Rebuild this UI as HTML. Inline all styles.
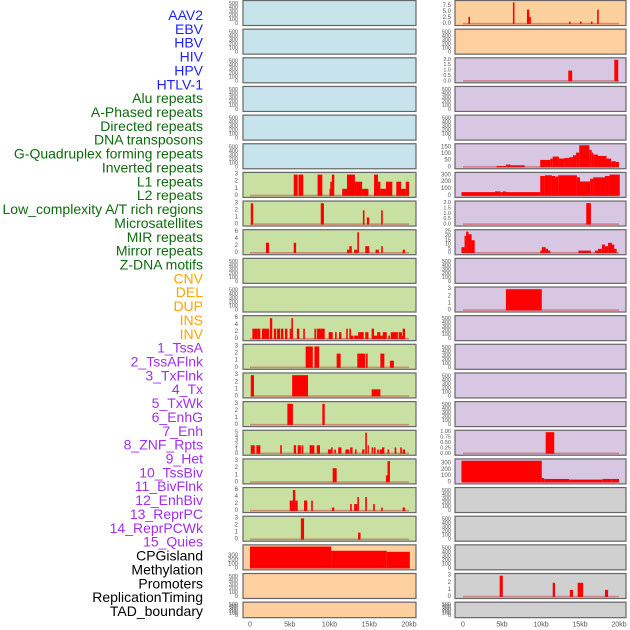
<!DOCTYPE html>
<html><head><meta charset="utf-8"><style>
html,body{margin:0;padding:0;background:#fff;width:630px;height:630px;overflow:hidden}
svg{display:block;font-family:"Liberation Sans",sans-serif}
</style></head><body>
<svg id="chart" width="630" height="630" viewBox="0 0 630 630" xmlns="http://www.w3.org/2000/svg">
<g id="labels"></g>
<g id="panels"></g>
<g id="xaxes"></g>
</svg>
<script>
const trackNames = ["AAV2","EBV","HBV","HIV","HPV","HTLV-1","Alu repeats","A-Phased repeats","Directed repeats","DNA transposons","G-Quadruplex forming repeats","Inverted repeats","L1 repeats","L2 repeats","Low_complexity A/T rich regions","Microsatellites","MIR repeats","Mirror repeats","Z-DNA motifs","CNV","DEL","DUP","INS","INV","1_TssA","2_TssAFlnk","3_TxFlnk","4_Tx","5_TxWk","6_EnhG","7_Enh","8_ZNF_Rpts","9_Het","10_TssBiv","11_BivFlnk","12_EnhBiv","13_ReprPC","14_ReprPCWk","15_Quies","CPGisland","Methylation","Promoters","ReplicationTiming","TAD_boundary"];
const trackGroups = ["v","v","v","v","v","v","r","r","r","r","r","r","r","r","r","r","r","r","r","s","s","s","s","s","c","c","c","c","c","c","c","c","c","c","c","c","c","c","c","o","o","o","o","o"];
const groupColors = {v:"#1f1fff",r:"#0f6a0f",s:"#ffa500",c:"#a12ef0",o:"#000000"};
const xTicks = [0,5,10,15,20];
const xTickLabels = ["0","5kb","10kb","15kb","20kb"];

const c1Bg = ["b","b","b","b","b","b","g","g","g","g","g","g","g","g","g","g","g","g","g","o","o","o"];
const c2Bg = ["o","o","p","p","p","p","p","p","p","p","p","p","p","p","p","p","p","y","y","y","y","y"];
const c1Max = [550,550,550,550,550,550,3.1,3.1,6.3,550,550,6.3,3.1,3.1,3.1,5.2,3.1,6.3,3.1,545,550,550];
const c2Max = [9.2,550,2.05,550,550,165,320,2.05,25.5,550,3.1,550,550,550,550,1.02,350,550,550,550,3.1,550];
const c1Ticks = [[0,100,200,300,400,500],[0,100,200,300,400,500],[0,100,200,300,400,500],[0,100,200,300,400,500],[0,100,200,300,400,500],[0,100,200,300,400,500],[0,1,2,3],[0,1,2,3],[0,2,4,6],[0,100,200,300,400,500],[0,100,200,300,400,500],[0,2,4,6],[0,1,2,3],[0,1,2,3],[0,1,2,3],[0,1,2,3,4,5],[0,1,2,3],[0,2,4,6],[0,1,2,3],[0,100,200,300],[0,100,200,300,400,500],[0,100,200,300,400,500]];
const c2Ticks = [[0,2.5,5,7.5],[0,100,200,300,400,500],[0,0.5,1,1.5,2],[0,100,200,300,400,500],[0,100,200,300,400,500],[0,50,100,150],[0,100,200,300],[0,0.5,1,1.5,2],[0,5,10,15,20,25],[0,100,200,300,400,500],[0,1,2,3],[0,100,200,300,400,500],[0,100,200,300,400,500],[0,100,200,300,400,500],[0,100,200,300,400,500],[0,0.25,0.5,0.75,1],[0,100,200,300],[0,100,200,300,400,500],[0,100,200,300,400,500],[0,100,200,300,400,500],[0,1,2,3],[0,100,200,300,400,500]];
const c2TickFmt = [1,0,1,0,0,0,0,1,0,0,0,0,0,0,0,2,0,0,0,0,0,0];

const c1Bars = [[],[],[],[],[],[],
 [[5.5,6,3],[6.1,6.7,3],[8.5,9.1,3],[10,10.4,1],[10.1,10.3,2],[10.3,10.6,3],[11.6,12.2,1],[12.2,13.2,3],[13.2,14.1,2],[14.1,14.9,1],[15.6,16.1,3],[16.1,16.4,2],[16.4,17.1,1],[17.1,17.9,2],[18.4,19,2],[19,19.6,1],[19.6,20,2]],
 [[0.1,0.4,3],[8.9,9.3,3],[14.2,14.4,2],[14.7,15,1],[16.5,16.7,2]],
 [[2,2.4,3],[5.5,5.8,3],[12.2,12.5,1],[12.5,12.8,2],[13.1,13.5,1],[13.5,13.7,6],[14.5,15,2],[15.8,16.2,1],[16.5,16.7,2],[19.2,19.5,1]],
 [],[],
 [[0.3,0.9,3],[0.9,1.3,3],[1.5,2.4,3],[2.5,2.8,6],[3,3.3,3],[3.4,3.8,3],[3.9,4.2,3],[4.4,4.7,3],[5,5.2,3],[5.2,5.4,6],[5.9,6.2,3],[6.7,6.9,3],[8.1,8.3,3],[8.4,9.4,3],[9.9,10.4,2],[10.7,10.9,2],[11.2,11.5,2],[12.1,12.3,3],[12.5,12.7,3],[12.7,13,1],[13.1,13.6,1],[13.6,14.3,2],[14.5,14.9,2],[15.3,15.6,3],[15.6,16,1],[16,16.4,2],[16.4,16.7,1],[16.7,17.2,2],[17.4,17.6,1],[17.7,18.6,2],[18.7,19.1,2],[19.1,19.2,1],[19.2,19.5,3]],
 [[7,7.9,3],[8.1,8.7,3],[10.9,11.4,2],[13.5,14.5,2],[14.6,14.8,2],[16.4,16.9,2],[17.6,18.1,1]],
 [[0.1,0.5,3],[5.3,7.3,3],[15.3,16.4,1]],
 [[4.7,5.4,3],[9.1,9.4,3]],
 [[0.1,0.6,2],[0.8,1.3,2],[3.8,4,2],[5.5,5.8,2],[6,6.4,2],[6.5,6.7,2],[7.5,8.1,2],[8.4,8.8,2],[9.8,10.2,1],[10.2,10.4,1.5],[10.6,10.8,1],[11.1,11.5,1.5],[12,12.5,1],[12.6,12.9,1.5],[13.2,13.4,1],[14.1,14.4,1],[14.5,14.7,5],[14.8,14.9,2],[15.3,15.5,1.5],[15.6,15.8,1.5],[16,16.2,1],[16.3,16.6,1],[16.6,16.9,1.5],[17.3,17.5,1],[18.2,18.4,1.5],[18.9,19.1,1.5],[19.2,19.5,1]],
 [[10.4,10.9,2],[17.1,17.3,1],[17.3,17.6,3]],
 [[5,5.4,3],[5.4,5.7,6],[5.7,6,3],[6.8,7.2,3],[7.7,7.9,3],[10.3,10.6,1],[12.6,12.8,2],[13.1,13.5,2],[13.5,13.7,4],[14.5,14.7,4],[15.5,15.7,2],[16.5,16.7,1],[19.2,19.5,1]],
 [[6.4,6.8,3],[13.6,13.9,1]],
 [[0,10.2,540],[10.2,17.2,435],[17.2,20.1,410]],
 [],[]];
const c2Bars = [
 [[0.7,0.9,3],[6.4,6.6,9],[8.2,8.5,6],[8.5,8.7,3],[13.6,13.8,1],[15,15.2,1],[16.4,16.6,1],[17.2,17.4,6]],
 [],
 [[13.5,14,1],[19.4,19.9,2]],
 [],[],
 [[4.3,5.5,10],[5.5,6.1,20],[6.1,7.9,15],[9.9,11.2,55],[11.2,11.5,65],[11.5,12.3,80],[12.3,13,65],[13,13.6,70],[13.6,14.1,75],[14.1,14.5,90],[14.5,14.9,110],[14.9,16.2,165],[16.2,16.5,130],[16.5,16.7,110],[16.7,17.3,95],[17.3,18.4,85],[18.4,19,65],[19,19.6,45],[19.6,20,40]],
 [[-0.2,4.1,55],[4.1,4.8,65],[4.8,5.1,55],[5.1,5.5,65],[5.5,9.9,55],[9.9,10.5,290],[10.5,11.4,300],[11.4,11.8,290],[11.8,12.2,280],[12.2,14.6,300],[14.6,15,270],[15,16.3,210],[16.3,16.7,250],[16.7,18.2,270],[18.2,18.8,290],[18.8,20.1,310]],
 [[15.8,16.4,2]],
 [[-0.2,0.2,7],[0.2,0.4,20],[0.4,0.7,25],[0.7,1.1,22],[1.1,1.5,15],[9.9,10.1,3],[10.1,10.6,7],[10.6,10.9,5],[10.9,11.2,3],[14.8,16.4,3],[16.9,17.3,3],[17.3,17.8,5],[17.8,18.2,10],[18.2,18.6,8],[18.6,19.1,12],[19.1,19.4,10],[19.4,19.7,5]],
 [],
 [[5.5,10.1,3]],
 [],[],[],[],
 [[10.6,11.7,1]],
 [[-0.2,10.1,345],[10.1,10.4,70],[10.4,13.6,55],[13.6,17.9,45],[17.9,19,55],[19,20,55]],
 [],[],[],
 [[4.7,5.1,3],[11.5,11.8,2],[13.7,14.1,1],[14.7,15.4,2],[18.2,18.6,1]],
 []];

const NS = "http://www.w3.org/2000/svg";
const bgColors = {b:"#c7e3ec",g:"#c8e0a2",o:"#fdd09e",p:"#d7c7e3",y:"#d0d0d0"};
const cols = [{x0:243,x1:416,px0:250,px20:409,tickX:238},{x0:455,x1:626,px0:463,px20:619,tickX:451}];
function el(tag, attrs, parent){const e=document.createElementNS(NS,tag);for(const k in attrs)e.setAttribute(k,attrs[k]);parent.appendChild(e);return e;}

const lg = document.getElementById('labels');
trackNames.forEach((name,i)=>{
  const t = el('text',{x:203,y:15+i*13.86,'text-anchor':'end','dominant-baseline':'central','font-size':'14',fill:groupColors[trackGroups[i]]},lg);
  
  
  t.textContent = name;
});

const pg = document.getElementById('panels');
function drawColumn(ci, bgs, maxes, ticks, bars, fmts){
  const c = cols[ci];
  const xs = kb => c.px0 + (c.px20-c.px0)*kb/20;
  for(let i=0;i<bgs.length;i++){
    const top = i*28.65+0.5;
    const h = (i===bgs.length-1)?15.5:25;
    const g = el('g',{},pg);
    
    
    el('rect',{x:c.x0,y:top,width:c.x1-c.x0,height:h,fill:bgColors[bgs[i]],stroke:'#666',"stroke-width":1.2},g);
    const yTop = top+1.5, yZero = top+h-1.5;
    const ys = v => yZero - (yZero-yTop)*v/maxes[i];
    ticks[i].forEach(v=>{
      const t = el('text',{x:c.tickX,y:ys(v),'text-anchor':'end','dominant-baseline':'central','font-size': (ticks[i].length>4?'5.5':'6'),fill:'#555'},g);
      
      
      const f = fmts? fmts[i]:0;
      t.textContent = f? v.toFixed(f) : String(v);
    });
    bars[i].forEach(b=>{
      const y = Math.max(ys(b[2]), top+0.5);
      const r = el('rect',{x:xs(b[0]),y:y,width:Math.max(xs(b[1])-xs(b[0]),1.2),height:yZero-y,fill:'#ff0000'},g);
      
      
    });
    if(bars[i].length){
      const bl = el('rect',{x:xs(0),y:yZero-1.2,width:xs(20)-xs(0),height:1.6,fill:'rgba(200,40,40,0.45)'},g);
      
      
    }
  }
  const xg = document.getElementById('xaxes');
  xTicks.forEach((v,k)=>{
    const t = el('text',{x:xs(v),y:625,'text-anchor':'middle','dominant-baseline':'central','font-size':'7',fill:'#555'},xg);
    
    
    t.textContent = xTickLabels[k];
  });
}
drawColumn(0, c1Bg, c1Max, c1Ticks, c1Bars, null);
drawColumn(1, c2Bg, c2Max, c2Ticks, c2Bars, c2TickFmt);
</script>
</body></html>
